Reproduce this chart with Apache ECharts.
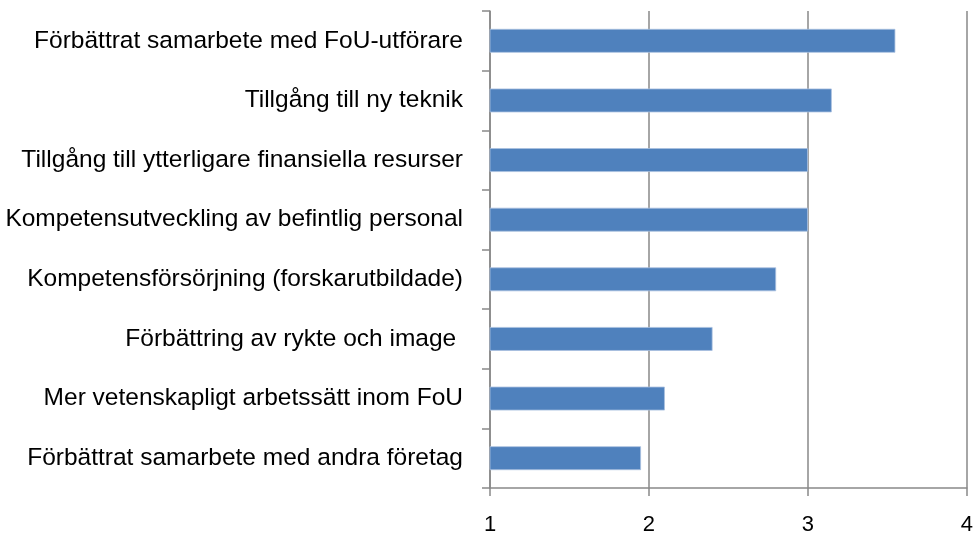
<!DOCTYPE html>
<html>
<head>
<meta charset="utf-8">
<script src="https://cdn.jsdelivr.net/npm/echarts@6/dist/echarts.min.js"></script>
<style>
  html, body { margin: 0; padding: 0; background: #fff; }
  #chart { width: 976px; height: 536px; }
</style>
</head>
<body>
<div id="chart"></div>
<script>
// categories, top to bottom as in the picture
var categories = [
    'Förbättrat samarbete med FoU-utförare',
    'Tillgång till ny teknik',
    'Tillgång till ytterligare finansiella resurser',
    'Kompetensutveckling av befintlig personal',
    'Kompetensförsörjning (forskarutbildade)',
    'Förbättring av rykte och image ',
    'Mer vetenskapligt arbetssätt inom FoU',
    'Förbättrat samarbete med andra företag'
];
var values = [3.55, 3.15, 3.0, 3.0, 2.8, 2.4, 2.1, 1.95];
var xTicks = [1, 2, 3, 4];

var axisGray = '#898989';
var font = 'Liberation Sans';

var chart = echarts.init(document.getElementById('chart'));

var option = {
    animation: false,
    grid: {
        left: 490,
        right: 5,
        top: 11,
        bottom: 48
    },
    xAxis: {
        type: 'value',
        min: xTicks[0],
        max: xTicks[xTicks.length - 1],
        interval: 1,
        axisLine: { show: true, lineStyle: { color: axisGray, width: 1.5 } },
        axisTick: { show: true, length: 8, lineStyle: { color: axisGray, width: 1.5 } },
        axisLabel: {
            color: '#000',
            fontFamily: font,
            fontSize: 22,
            margin: 26
        },
        splitLine: { show: true, lineStyle: { color: axisGray, width: 1.5 } }
    },
    yAxis: {
        type: 'category',
        inverse: true,
        data: categories,
        axisLine: { show: true, lineStyle: { color: axisGray, width: 1.5 } },
        axisTick: { show: true, length: 8, lineStyle: { color: axisGray, width: 1.5 } },
        axisLabel: {
            color: '#000',
            fontFamily: font,
            fontSize: 24.5,
            margin: 27
        }
    },
    series: [{
        type: 'bar',
        data: values,
        barCategoryGap: '60%',
        itemStyle: {
            color: '#4f81bd',
            borderColor: '#a9c0e0',
            borderWidth: 0.8
        }
    }]
};

chart.setOption(option);
</script>
</body>
</html>
